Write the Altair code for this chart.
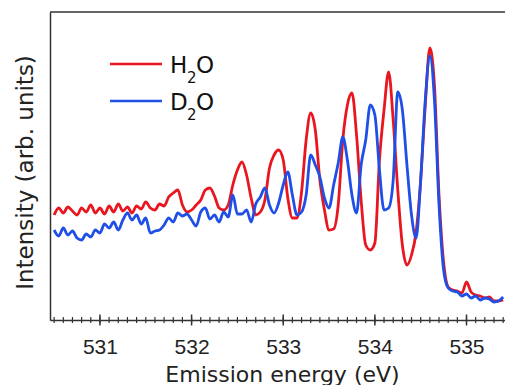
import altair as alt
import pandas as pd

# Emission energy grid (eV)
energy = [
    530.50, 530.55, 530.60, 530.65, 530.70, 530.75, 530.80, 530.85, 530.90, 530.95,
    531.00, 531.05, 531.10, 531.15, 531.20, 531.25, 531.30, 531.35, 531.40, 531.45,
    531.50, 531.55, 531.60, 531.65, 531.70, 531.75, 531.80, 531.85, 531.90, 531.95,
    532.00, 532.05, 532.10, 532.15, 532.20, 532.25, 532.30, 532.35, 532.40, 532.45,
    532.50, 532.55, 532.60, 532.65, 532.70, 532.75, 532.80, 532.85, 532.90, 532.95,
    533.00, 533.05, 533.10, 533.15, 533.20, 533.25, 533.30, 533.35, 533.40, 533.45,
    533.50, 533.55, 533.60, 533.65, 533.70, 533.75, 533.80, 533.85, 533.90, 533.95,
    534.00, 534.05, 534.10, 534.15, 534.20, 534.25, 534.30, 534.35, 534.40, 534.45,
    534.50, 534.55, 534.60, 534.65, 534.70, 534.75, 534.80, 534.85, 534.90, 534.95,
    535.00, 535.05, 535.10, 535.15, 535.20, 535.25, 535.30, 535.35, 535.40,
]

# Intensity (arb. units), H2O
h2o = [
    1.05, 1.12, 1.07, 1.13, 1.09, 1.05, 1.12, 1.08, 1.15, 1.07,
    1.12, 1.06, 1.14, 1.08, 1.16, 1.09, 1.13, 1.07, 1.14, 1.11,
    1.18, 1.12, 1.10, 1.16, 1.14, 1.23, 1.27, 1.30, 1.15, 1.08,
    1.10, 1.15, 1.20, 1.30, 1.32, 1.24, 1.12, 1.10, 1.15, 1.35,
    1.50, 1.58, 1.45, 1.22, 1.05, 1.08, 1.20, 1.52, 1.65, 1.70,
    1.60, 1.22, 1.02, 1.02, 1.28, 1.80, 2.07, 1.90, 1.40, 1.10,
    0.90, 0.91, 1.15, 1.80, 2.15, 2.27, 1.85, 1.20, 0.75, 0.70,
    0.77, 1.60, 2.10, 2.48, 2.00, 1.30, 0.75, 0.55, 0.65, 0.88,
    1.40, 2.15, 2.72, 2.35, 1.25, 0.58, 0.33, 0.30, 0.29, 0.27,
    0.38, 0.28, 0.25, 0.24, 0.22, 0.23, 0.19, 0.19, 0.20,
]

# Intensity (arb. units), D2O
d2o = [
    0.90, 0.84, 0.92, 0.85, 0.89, 0.82, 0.80, 0.86, 0.83, 0.90,
    0.87, 0.96, 0.92, 0.98, 0.90, 1.00, 1.07, 1.00, 1.05, 0.96,
    1.02, 0.87, 0.89, 0.90, 0.95, 1.02, 0.98, 1.07, 1.04, 1.06,
    1.00, 0.94, 1.08, 1.12, 1.01, 1.05, 0.98, 1.08, 1.03, 1.25,
    1.06, 1.06, 1.10, 0.98, 1.16, 1.23, 1.32, 1.15, 1.07, 1.17,
    1.35, 1.48, 1.25, 1.05, 1.08, 1.25, 1.65, 1.55, 1.43, 1.22,
    1.12, 1.35, 1.57, 1.83, 1.60, 1.25, 1.07, 1.55, 1.80, 2.15,
    2.05, 1.50, 1.10, 1.12, 1.40, 2.28, 2.10, 1.55, 1.05, 0.82,
    1.40, 2.20, 2.64, 2.20, 1.15, 0.50, 0.32, 0.29, 0.28, 0.24,
    0.26, 0.22, 0.24, 0.20, 0.22, 0.21, 0.18, 0.19, 0.23,
]

major_ticks = [531, 532, 533, 534, 535]
minor_ticks = [round(530.5 + 0.1 * i, 1) for i in range(50)]

RED = "#e8161e"
BLUE = "#1f4fe6"
FRAME = "#333333"
TITLE_FONT = "DejaVu Sans"
LABEL_FONT = "Liberation Sans Narrow, Arial Narrow, Liberation Sans"

W, H = 455, 308

df_h = pd.DataFrame({"E": energy, "I": h2o})
df_d = pd.DataFrame({"E": energy, "I": d2o})

xscale = alt.Scale(domain=[530.455, 535.42], nice=False, zero=False)
yscale = alt.Scale(domain=[0, 3.08], nice=False, zero=False)

xenc = alt.X(
    "E:Q",
    scale=xscale,
    axis=alt.Axis(
        values=major_ticks,
        format="d",
        ticks=False,
        grid=False,
        domain=True,
        domainColor=FRAME,
        domainWidth=1.5,
        labelFont=LABEL_FONT,
        labelFontSize=21,
        labelColor="#222222",
        labelPadding=16,
        title="Emission energy (eV)",
        titleFont=TITLE_FONT,
        titleFontSize=22,
        titleFontWeight="normal",
        titleColor="#222222",
        titlePadding=7,
        titleX=232,
    ),
)
yenc = alt.Y(
    "I:Q",
    scale=yscale,
    axis=alt.Axis(
        labels=False,
        ticks=False,
        grid=False,
        domain=True,
        domainColor=FRAME,
        domainWidth=1.5,
        title="Intensity (arb. units)",
        titleFont=TITLE_FONT,
        titleFontSize=23,
        titleFontWeight="normal",
        titleColor="#222222",
        titlePadding=13,
        titleY=160,
    ),
)

red_line = alt.Chart(df_h).mark_line(
    color=RED, strokeWidth=2.8, clip=True, interpolate="monotone"
).encode(x=xenc, y=yenc)
blue_line = alt.Chart(df_d).mark_line(
    color=BLUE, strokeWidth=2.8, clip=True, interpolate="monotone"
).encode(x=alt.X("E:Q", scale=xscale), y=alt.Y("I:Q", scale=yscale))

minor = alt.Chart(pd.DataFrame({"t": minor_ticks})).mark_rule(color=FRAME, strokeWidth=1.2).encode(
    x=alt.X("t:Q", scale=xscale), y=alt.value(H - 3), y2=alt.value(H + 3)
)
major = alt.Chart(pd.DataFrame({"t": major_ticks})).mark_rule(color=FRAME, strokeWidth=1.5).encode(
    x=alt.X("t:Q", scale=xscale), y=alt.value(H - 5.5), y2=alt.value(H + 5.5)
)
top_border = alt.Chart(pd.DataFrame({"a": [0]})).mark_rule(color=FRAME, strokeWidth=1.5).encode(
    x=alt.value(0), x2=alt.value(W), y=alt.value(0)
)

# legend
leg_df = pd.DataFrame({"s": ["H2O", "D2O"], "yy": [52, 89], "c": [RED, BLUE]})
leg_lines = alt.Chart(leg_df).mark_rule(strokeWidth=2.3).encode(
    x=alt.value(60), x2=alt.value(112), y=alt.Y("yy:Q", scale=None), color=alt.Color("c:N", scale=None)
)

def txt(s, x, y, size):
    return alt.Chart(pd.DataFrame({"s": [s]})).mark_text(
        text=s, font=TITLE_FONT, fontSize=size, align="left", baseline="alphabetic", color="#111111"
    ).encode(x=alt.value(x), y=alt.value(y))

legend_text = [
    txt("H", 120, 61, 23), txt("2", 137, 71, 15), txt("O", 146, 61, 23),
    txt("D", 120, 98, 23), txt("2", 137, 108, 15), txt("O", 146, 98, 23),
]

chart = alt.layer(
    red_line, blue_line, minor, major, top_border, leg_lines, *legend_text
).properties(
    width=W,
    height=H,
    padding={"left": 50, "top": 12, "right": 0, "bottom": 65},
    autosize=alt.AutoSizeParams(type="none"),
    background="white",
).configure_view(stroke=None)

chart.save("out.html", embed_options={"renderer": "svg", "actions": False})
